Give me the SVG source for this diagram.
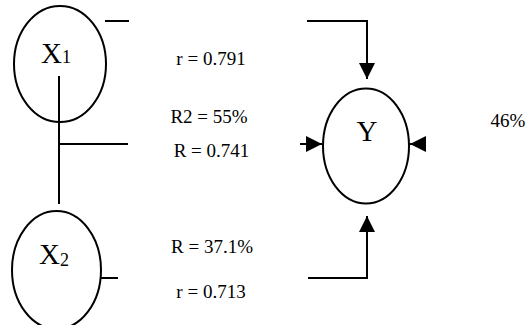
<svg xmlns="http://www.w3.org/2000/svg" width="529" height="325" viewBox="0 0 529 325">
<defs>
<style>
.n{fill:none;stroke:#000;stroke-width:2}
.c{fill:none;stroke:#000;stroke-width:2}
.big{font-family:"Liberation Serif","Times New Roman",serif;font-size:29px;fill:#000}
.sub{font-family:"Liberation Serif","Times New Roman",serif;font-size:18px;fill:#000}
.lbl{font-family:"Liberation Serif","Times New Roman",serif;font-size:19px;fill:#000;text-anchor:middle}
</style>
<marker id="ah" viewBox="0 0 10 10" refX="10" refY="5" markerWidth="8" markerHeight="8" orient="auto" markerUnits="strokeWidth">
<path d="M0,0 L10,5 L0,10 Z" fill="#000"/>
</marker>
</defs>
<rect width="529" height="325" fill="#fff"/>
<g id="X1">
<ellipse class="n" cx="60" cy="64" rx="46" ry="58"/>
<text class="big" x="41" y="63">X<tspan class="sub">1</tspan></text>
</g>
<g id="X2">
<ellipse class="n" cx="56.5" cy="270" rx="44.5" ry="59"/>
<text class="big" x="39" y="264">X<tspan class="sub" dy="2">2</tspan></text>
</g>
<g id="Y">
<ellipse class="n" cx="366" cy="146" rx="43" ry="57.5"/>
<text class="big" x="367" y="141" text-anchor="middle">Y</text>
</g>
<g id="connectors">
<path class="c" d="M105,21 H129"/>
<path class="c" d="M59,76 V204"/>
<path class="c" d="M59,144 H128"/>
<path class="c" d="M101,278 H118"/>
<path class="c" d="M307,21 H367 V79" marker-end="url(#ah)"/>
<path class="c" d="M300,144 H322" marker-end="url(#ah)"/>
<path class="c" d="M425,144 H410" marker-end="url(#ah)"/>
<path class="c" d="M308,278 H367 V216" marker-end="url(#ah)"/>
</g>
<g id="labels">
<text class="lbl" x="211" y="65">r = 0.791</text>
<text class="lbl" x="209" y="123">R2 = 55%</text>
<text class="lbl" x="211.5" y="157">R = 0.741</text>
<text class="lbl" x="212" y="253">R = 37.1%</text>
<text class="lbl" x="211" y="298">r = 0.713</text>
<text class="lbl" x="508" y="127">46%</text>
</g>
</svg>
